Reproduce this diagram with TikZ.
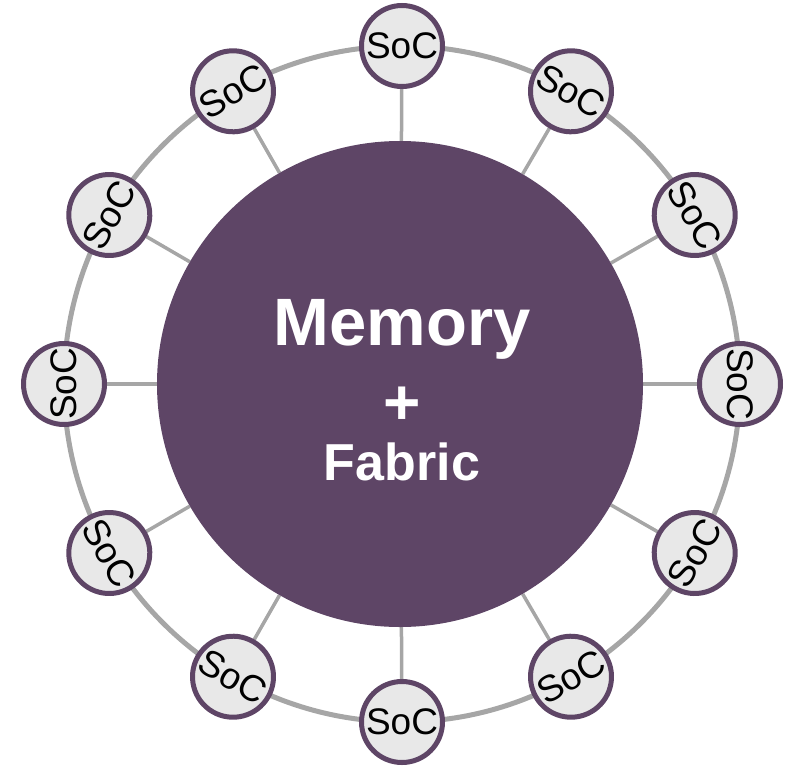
\documentclass[tikz,border=0pt]{standalone}
\usepackage{fontspec}
\setmainfont{Liberation Sans}
\usetikzlibrary{backgrounds,calc}
\definecolor{purp}{HTML}{5E4566}
\definecolor{socfill}{HTML}{E8E8E8}
\definecolor{ringgray}{HTML}{A6A6A6}
\begin{document}
\begin{tikzpicture}[x=1pt,y=1pt,
  soc/.style={circle,draw=purp,line width=5pt,fill=socfill,minimum size=81pt,inner sep=0pt,font=\fontsize{37}{37}\selectfont},
  core/.style={circle,fill=purp,minimum size=486pt,inner sep=0pt},
  coretext/.style={text=white,font=\bfseries\fontsize{#1}{#1}\selectfont,inner sep=0pt},
  ringline/.style={draw=ringgray,line width=5pt},
  spoke/.style={draw=ringgray,line width=3.5pt}]
\useasboundingbox (0,-766) rectangle (790,0);
\coordinate (C) at (402,-384);
\node[core] (M) at (400,-384) {};
\node[coretext=67,anchor=base] (t1) at (402,-345) {Memory};
\node[coretext=64] (t2) at (402,-406) {+};
\node[coretext=52,anchor=base] (t3) at (402,-480) {Fabric};
\foreach \a in {0,30,...,330}{
  \pgfmathsetmacro\r{\a<=180 ? \a-90 : \a+90}
  \node[soc,rotate=\r] (s\a) at ($(C)+(\a:338)$) {SoC};
}
\begin{scope}[on background layer]
  \draw[ringline] (C) circle (338);
  \foreach \a in {0,30,...,330}{
    \draw[spoke] (M) -- (s\a);
  }
\end{scope}
\end{tikzpicture}
\end{document}
